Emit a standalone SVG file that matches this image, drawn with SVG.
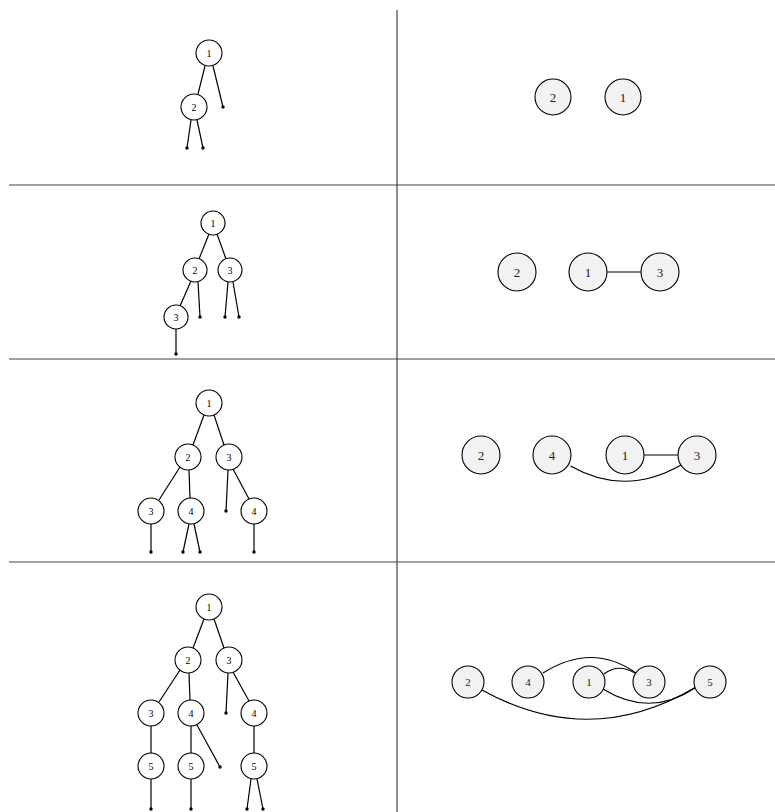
<svg xmlns="http://www.w3.org/2000/svg" width="775" height="812" viewBox="0 0 775 812">
<style>
.grid{stroke:#444;stroke-width:1.2;fill:none}
.t circle{fill:#fff;stroke:#000;stroke-width:1.1}
.t text{font-family:"Liberation Serif","DejaVu Serif",serif;font-size:10px;text-anchor:middle;dominant-baseline:central;fill:#000}
.g circle{fill:#f2f2f2;stroke:#000;stroke-width:1.1}
.g text{font-family:"Liberation Serif","DejaVu Serif",serif;font-size:13px;text-anchor:middle;dominant-baseline:central;fill:#222}
.e{stroke:#000;stroke-width:1.2;fill:none}
.dot{fill:#000}
</style>
<g id="grid">
<line class="grid" x1="397" y1="10" x2="397" y2="812"/>
<line class="grid" x1="9" y1="185" x2="775" y2="185"/>
<line class="grid" x1="9" y1="359" x2="775" y2="359"/>
<line class="grid" x1="9" y1="562" x2="775" y2="562"/>
</g>
<g id="connectors">
<!-- tree 1 -->
<line class="e" x1="205" y1="66" x2="198" y2="94"/>
<line class="e" x1="213" y1="66" x2="223" y2="107"/>
<line class="e" x1="191" y1="120" x2="187" y2="148"/>
<line class="e" x1="197" y1="120" x2="203" y2="148"/>
<!-- tree 2 -->
<line class="e" x1="209" y1="234" x2="199" y2="259"/>
<line class="e" x1="217" y1="234" x2="226" y2="259"/>
<line class="e" x1="191" y1="281" x2="180" y2="306"/>
<line class="e" x1="198" y1="282" x2="200" y2="317"/>
<line class="e" x1="228" y1="282" x2="225" y2="317"/>
<line class="e" x1="233" y1="282" x2="239" y2="317"/>
<line class="e" x1="176" y1="329" x2="176" y2="354"/>
<!-- tree 3 -->
<line class="e" x1="204" y1="415" x2="193" y2="445"/>
<line class="e" x1="214" y1="415" x2="224" y2="445"/>
<line class="e" x1="180" y1="467" x2="159" y2="500"/>
<line class="e" x1="189" y1="470" x2="190" y2="498"/>
<line class="e" x1="228" y1="470" x2="226" y2="511"/>
<line class="e" x1="233" y1="469" x2="249" y2="499"/>
<line class="e" x1="151" y1="524" x2="151" y2="552"/>
<line class="e" x1="189" y1="524" x2="183" y2="552"/>
<line class="e" x1="194" y1="524" x2="200" y2="552"/>
<line class="e" x1="254" y1="524" x2="254" y2="552"/>
<!-- tree 4 -->
<line class="e" x1="204" y1="619" x2="193" y2="648"/>
<line class="e" x1="214" y1="619" x2="224" y2="648"/>
<line class="e" x1="180" y1="670" x2="159" y2="702"/>
<line class="e" x1="189" y1="673" x2="190" y2="700"/>
<line class="e" x1="228" y1="673" x2="226" y2="713"/>
<line class="e" x1="233" y1="672" x2="249" y2="701"/>
<line class="e" x1="151" y1="726" x2="151" y2="753"/>
<line class="e" x1="191" y1="726" x2="191" y2="753"/>
<line class="e" x1="197" y1="725" x2="220" y2="767"/>
<line class="e" x1="254" y1="726" x2="254" y2="753"/>
<line class="e" x1="151" y1="779" x2="151" y2="809"/>
<line class="e" x1="191" y1="779" x2="191" y2="809"/>
<line class="e" x1="251" y1="779" x2="247" y2="809"/>
<line class="e" x1="257" y1="779" x2="263" y2="809"/>
<!-- graph 2 -->
<line class="e" x1="607" y1="272" x2="641" y2="272"/>
<!-- graph 3 -->
<line class="e" x1="644" y1="455" x2="678" y2="455"/>
<path class="e" d="M570.5,466 Q625,497 681,465"/>
<!-- graph 4 -->
<path class="e" d="M543,673 Q592,642 636,673"/>
<path class="e" d="M604,674 Q618,663 635,673"/>
<path class="e" d="M603,689 Q650,718 695,688"/>
<path class="e" d="M482,690 Q590,750 696,687"/>
</g>
<g class="dot">
<circle cx="223" cy="107" r="1.7"/><circle cx="187" cy="148" r="1.7"/><circle cx="203" cy="148" r="1.7"/>
<circle cx="200" cy="317" r="1.7"/><circle cx="225" cy="317" r="1.7"/><circle cx="239" cy="317" r="1.7"/><circle cx="176" cy="354" r="1.7"/>
<circle cx="226" cy="511" r="1.7"/><circle cx="151" cy="552" r="1.7"/><circle cx="183" cy="552" r="1.7"/><circle cx="200" cy="552" r="1.7"/><circle cx="254" cy="552" r="1.7"/>
<circle cx="226" cy="713" r="1.7"/><circle cx="220" cy="767" r="1.7"/><circle cx="151" cy="809" r="1.7"/><circle cx="191" cy="809" r="1.7"/><circle cx="247" cy="809" r="1.7"/><circle cx="263" cy="809" r="1.7"/>
</g>
<!-- tree 1 nodes -->
<g id="t1n1" class="t"><circle cx="209" cy="53" r="13"/><text x="209" y="53">1</text></g>
<g id="t1n2" class="t"><circle cx="194" cy="107" r="13"/><text x="194" y="107">2</text></g>
<!-- tree 2 nodes -->
<g id="t2n1" class="t"><circle cx="213" cy="223" r="12"/><text x="213" y="223">1</text></g>
<g id="t2n2" class="t"><circle cx="195" cy="270" r="12"/><text x="195" y="270">2</text></g>
<g id="t2n3" class="t"><circle cx="230" cy="270" r="12"/><text x="230" y="270">3</text></g>
<g id="t2n3b" class="t"><circle cx="176" cy="317" r="12"/><text x="176" y="317">3</text></g>
<!-- tree 3 nodes -->
<g id="t3n1" class="t"><circle cx="209" cy="403" r="13"/><text x="209" y="403">1</text></g>
<g id="t3n2" class="t"><circle cx="188" cy="457" r="13"/><text x="188" y="457">2</text></g>
<g id="t3n3" class="t"><circle cx="229" cy="457" r="13"/><text x="229" y="457">3</text></g>
<g id="t3n3b" class="t"><circle cx="151" cy="511" r="13"/><text x="151" y="511">3</text></g>
<g id="t3n4" class="t"><circle cx="191" cy="511" r="13"/><text x="191" y="511">4</text></g>
<g id="t3n4b" class="t"><circle cx="254" cy="511" r="13"/><text x="254" y="511">4</text></g>
<!-- tree 4 nodes -->
<g id="t4n1" class="t"><circle cx="209" cy="607" r="13"/><text x="209" y="607">1</text></g>
<g id="t4n2" class="t"><circle cx="188" cy="660" r="13"/><text x="188" y="660">2</text></g>
<g id="t4n3" class="t"><circle cx="229" cy="660" r="13"/><text x="229" y="660">3</text></g>
<g id="t4n3b" class="t"><circle cx="151" cy="713" r="13"/><text x="151" y="713">3</text></g>
<g id="t4n4" class="t"><circle cx="191" cy="713" r="13"/><text x="191" y="713">4</text></g>
<g id="t4n4b" class="t"><circle cx="254" cy="713" r="13"/><text x="254" y="713">4</text></g>
<g id="t4n5a" class="t"><circle cx="151" cy="766" r="13"/><text x="151" y="766">5</text></g>
<g id="t4n5b" class="t"><circle cx="191" cy="766" r="13"/><text x="191" y="766">5</text></g>
<g id="t4n5c" class="t"><circle cx="254" cy="766" r="13"/><text x="254" y="766">5</text></g>
<!-- graph 1 -->
<g id="g1n2" class="g"><circle cx="553" cy="97" r="18"/><text x="553" y="97">2</text></g>
<g id="g1n1" class="g"><circle cx="623" cy="97" r="18"/><text x="623" y="97">1</text></g>
<!-- graph 2 -->
<g id="g2n2" class="g"><circle cx="517" cy="272" r="19"/><text x="517" y="272">2</text></g>
<g id="g2n1" class="g"><circle cx="588" cy="272" r="19"/><text x="588" y="272">1</text></g>
<g id="g2n3" class="g"><circle cx="660" cy="272" r="19"/><text x="660" y="272">3</text></g>
<!-- graph 3 -->
<g id="g3n2" class="g"><circle cx="481" cy="455" r="19"/><text x="481" y="455">2</text></g>
<g id="g3n4" class="g"><circle cx="552" cy="455" r="19"/><text x="552" y="455">4</text></g>
<g id="g3n1" class="g"><circle cx="625" cy="455" r="19"/><text x="625" y="455">1</text></g>
<g id="g3n3" class="g"><circle cx="697" cy="455" r="19"/><text x="697" y="455">3</text></g>
<!-- graph 4 -->
<g id="g4n2" class="g"><circle cx="468" cy="682" r="16"/><text x="468" y="682" style="font-size:11px">2</text></g>
<g id="g4n4" class="g"><circle cx="528" cy="682" r="16"/><text x="528" y="682" style="font-size:11px">4</text></g>
<g id="g4n1" class="g"><circle cx="589" cy="682" r="16"/><text x="589" y="682" style="font-size:11px">1</text></g>
<g id="g4n3" class="g"><circle cx="649" cy="682" r="16"/><text x="649" y="682" style="font-size:11px">3</text></g>
<g id="g4n5" class="g"><circle cx="710" cy="682" r="16"/><text x="710" y="682" style="font-size:11px">5</text></g>
</svg>
